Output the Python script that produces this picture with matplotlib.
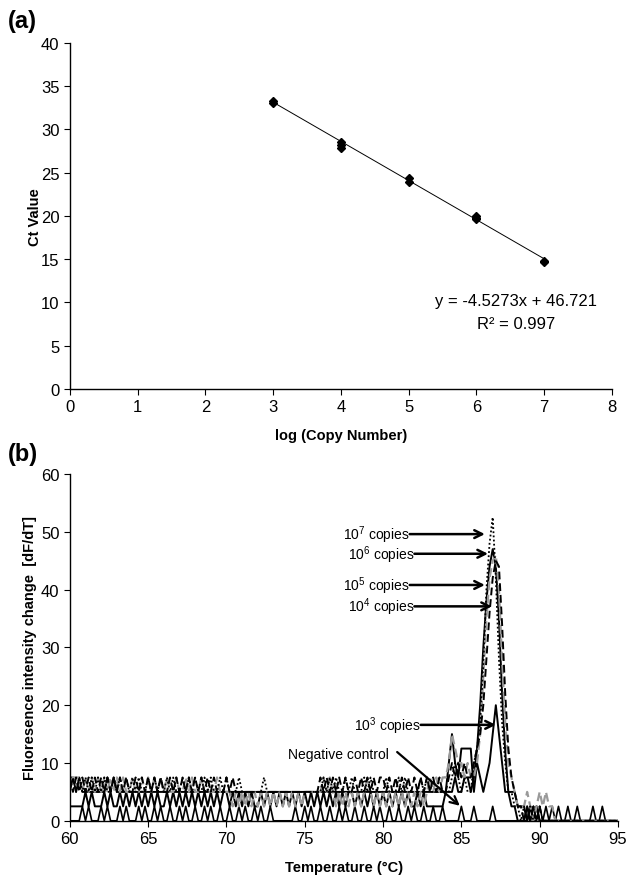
import numpy as np
import matplotlib
matplotlib.use("Agg")
import matplotlib.pyplot as plt

plt.rcParams['font.family'] = ['Liberation Sans', 'DejaVu Sans']
plt.rcParams['mathtext.default'] = 'regular'

# ---- panel (a): standard curve ----
log_copies = [3, 3, 4, 4, 4, 5, 5, 6, 6, 6, 7, 7]
ct_values = [33.0, 33.3, 28.5, 28.2, 27.8, 24.4, 23.9, 20.0, 19.6, 19.8, 14.7, 14.8]
slope, intercept = -4.5273, 46.721

# ---- panel (b): melt curves, 0.2 C steps ----
# baseline levels 60.0-83.8 as digits (x2.5), peak values 84.0-88.8, tail levels 89.0-95.0
s7_base = ("3323232323" "2322323232" "3232232323" "2323223232" "3223232232" "3222322222"
           "2232222222" "2222222222" "2323232232" "3222323222" "2322232322" "2232322222")
s7_peak = [5, 5, 7.5, 10, 7.5, 5, 7.5, 5, 5, 10, 12.5, 17, 27, 40, 48, 52.5, 42, 28, 17, 10, 5, 5, 2.5, 2.5, 0]
s7_tail = "1010000000000000000000000000000"

s6_base = ("2323222222" "2232322222" "2222222222" "2222222222" "2222222222" "2222222222"
           "2222222222" "2222222222" "2222222222" "2222222222" "2222222222" "2222222222")
s6_peak = [5, 5, 5, 7.5, 5, 5, 7.5, 7.5, 5, 7.5, 12.5, 20, 30, 38, 44, 47, 44, 35, 22, 12, 5, 5, 5, 2.5, 2.5]
s6_tail = "1010100000000000000000000000000"

s5_base = ("3333232323" "2323232322" "3223232323" "2322322323" "2232222322" "2212121212"
           "1212121212" "1212122222" "2323212121" "2121232121" "2121212121" "2121232323")
s5_peak = [7.5, 10, 15, 12.5, 10, 10, 7.5, 10, 7.5, 7.5, 10, 15, 25, 35, 42, 45, 46, 40, 28, 17, 10, 7.5, 5, 2.5, 2.5]
s5_tail = "1210121211000000000000000000000"

s4_base = ("3232323232" "3232323232" "2323232323" "2232323232" "3232323222" "3232222222"
           "2222222222" "2222222222" "3232323232" "2323232323" "3232323232" "3232323232")
s4_peak = [5, 7.5, 10, 7.5, 10, 7.5, 10, 7.5, 7.5, 10, 12.5, 15, 20, 28, 36, 42, 45, 44, 34, 22, 12.5, 7.5, 5, 2.5, 2.5]
s4_tail = "0101010000000000000000000000000"

s3_base = ("1111121211" "1212112121" "2121212121" "1212121212" "1212121212" "2121212121"
           "1212121212" "1212121212" "1212121212" "2121212121" "2121212121" "1212111111")
s3_peak = [5, 10, 15, 10, 7.5, 12.5, 12.5, 12.5, 12.5, 5, 10, 7.5, 5, 7.5, 10, 15, 20, 15, 10, 5, 5, 2.5, 2.5, 0, 0]
s3_tail = "0010100000000000000000000000000"

neg_levels = ("0000101000" "1010001010" "0010100101" "0010010100" "1001010010" "0100101001"
              "0100100000" "0010010100" "1001001010" "0100100101" "0010010010" "1001001001"
              "0000010001" "0000010000" "0000001010" "1010101001" "0010000100" "10000")

labels_b = ["10$^7$ copies", "10$^6$ copies", "10$^5$ copies", "10$^4$ copies", "10$^3$ copies"]
label_y = [49.6, 46.2, 40.8, 37.1, 16.6]
label_tip = [86.5, 86.7, 86.5, 86.95, 87.2]
label_x = [81.7, 82.0, 81.7, 82.0, 82.4]


def build(base, peak, tail):
    vals = [int(c) * 2.5 for c in base] + list(peak) + [int(c) * 2.5 for c in tail]
    return np.array(vals)


temps = 60.0 + 0.2 * np.arange(176)

fig = plt.figure(figsize=(6.29, 8.78), dpi=100)

# (a)
ax1 = fig.add_axes([0.111, 0.556, 0.862, 0.394])
xs = np.array([3, 7])
ax1.plot(xs, slope * xs + intercept, color='black', lw=0.7)
ax1.plot(log_copies, ct_values, 'D', color='black', ms=4)
ax1.set_xlim(0, 8)
ax1.set_ylim(0, 40)
ax1.set_xticks(range(0, 9))
ax1.set_yticks(range(0, 41, 5))
ax1.set_xlabel("log (Copy Number)", fontsize=10.5, fontweight='bold', labelpad=10)
ax1.set_ylabel("Ct Value", fontsize=10.5, fontweight='bold', labelpad=-1)
ax1.text(6.58, 10.2, "y = -4.5273x + 46.721", fontsize=12, ha='center', va='center')
ax1.text(6.58, 7.6, "R² = 0.997", fontsize=12, ha='center', va='center')
fig.text(0.012, 0.975, "(a)", fontsize=17, fontweight='bold', va='center')

# (b)
ax2 = fig.add_axes([0.111, 0.064, 0.8715, 0.395])
t_neg = temps[:len(neg_levels)]
ax2.plot(t_neg, [int(c) * 2.5 for c in neg_levels], color='black', lw=1.2)
ax2.plot(temps, build(s3_base, s3_peak, s3_tail), color='black', lw=1.4)
ax2.plot(temps, build(s6_base, s6_peak, s6_tail), color='black', lw=1.4)
ax2.plot(temps, build(s5_base, s5_peak, s5_tail), color='#9a9a9a', lw=1.6, ls=(0, (4, 2)))
ax2.plot(temps, build(s4_base, s4_peak, s4_tail), color='black', lw=1.4, ls=(0, (4, 2)))
ax2.plot(temps, build(s7_base, s7_peak, s7_tail), color='black', lw=1.3, ls=(0, (1, 1.3)))

for lab, y, tip, x0 in zip(labels_b, label_y, label_tip, label_x):
    ax2.annotate("", xy=(tip, y), xytext=(x0, y),
                 arrowprops=dict(arrowstyle='->', lw=1.8, color='black', mutation_scale=14,
                                 shrinkA=0, shrinkB=0))
    ax2.text(x0, y, lab, fontsize=10, ha='right', va='center')

ax2.annotate("", xy=(84.9, 2.6), xytext=(80.9, 11.9),
             arrowprops=dict(arrowstyle='->', lw=1.6, color='black', mutation_scale=14,
                             shrinkA=0, shrinkB=0))
ax2.text(80.4, 11.6, "Negative control", fontsize=10, ha='right', va='center')

ax2.set_xlim(60, 95)
ax2.set_ylim(0, 60)
ax2.set_xticks(range(60, 96, 5))
ax2.set_yticks(range(0, 61, 10))
ax2.set_xlabel("Temperature (°C)", fontsize=10.5, fontweight='bold', labelpad=10)
ax2.set_ylabel("Fluoresence intensity change  [dF/dT]", fontsize=10.5, fontweight='bold', labelpad=3)
fig.text(0.012, 0.482, "(b)", fontsize=17, fontweight='bold', va='center')

for ax in (ax1, ax2):
    ax.spines['top'].set_visible(False)
    ax.spines['right'].set_visible(False)
    ax.spines['left'].set_linewidth(1.0)
    ax.spines['bottom'].set_linewidth(1.0)
    ax.tick_params(labelsize=12, length=4, width=0.8, direction='out')

fig.savefig("out.png", dpi=100)
